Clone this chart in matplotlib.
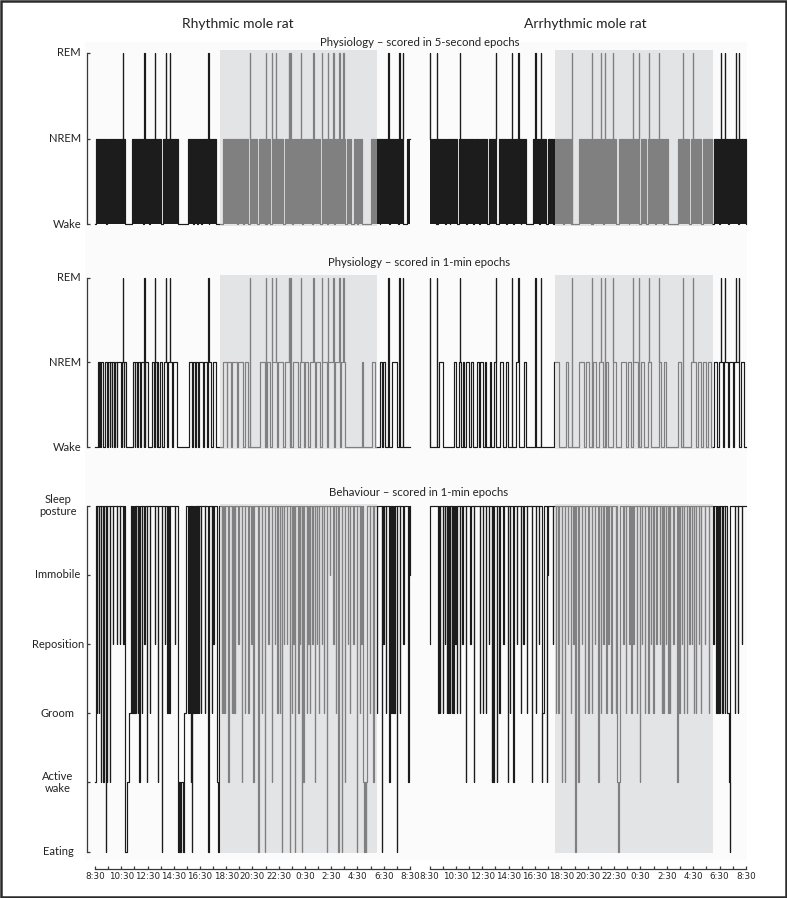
import numpy as np
import matplotlib
matplotlib.use('Agg')
import matplotlib.pyplot as plt
import matplotlib.transforms as mtrans
from matplotlib.patches import Rectangle

plt.rcParams['font.family'] = ['Lato', 'DejaVu Sans']

# time is hours after 8:30 (0 .. 24), lights off 18:00-6:00
dark_start, dark_end = 9.5, 21.5
hour_labels = ['8:30', '10:30', '12:30', '14:30', '16:30', '18:30', '20:30',
               '22:30', '0:30', '2:30', '4:30', '6:30', '8:30']

phys_levels = ['Wake', 'NREM', 'REM']
beh_levels = ['Eating', 'Active\nwake', 'Groom', 'Reposition', 'Immobile', 'Sleep\nposture']

# physiology, 5-second epochs: NREM bouts (start, end)
rhythm_nrem_5s = [(0.05, 0.84), (0.91, 2.31), (2.84, 3.68), (3.76, 4.11), (4.19, 5.05),
                  (5.20, 6.30), (7.06, 7.44), (7.52, 7.75), (7.82, 8.05), (8.13, 8.63),
                  (8.71, 9.22), (9.73, 10.84), (10.92, 11.30), (11.38, 11.68), (11.81, 12.32),
                  (12.52, 12.95), (13.08, 13.33), (13.46, 14.35), (14.48, 14.99), (15.11, 15.75),
                  (15.87, 16.51), (16.63, 17.14), (17.27, 17.65), (17.78, 18.16), (18.29, 19.05),
                  (19.18, 19.48), (19.73, 19.94), (20.06, 20.37), (21.00, 21.68), (21.74, 22.40),
                  (22.46, 23.10), (23.16, 23.49), (23.79, 24.0)]
arrhythm_nrem_5s = [(0.0, 0.50), (0.63, 1.14), (1.26, 1.52), (1.59, 2.07), (2.22, 2.80),
                    (2.86, 3.33), (3.41, 3.79), (3.86, 4.34), (4.49, 5.05), (5.30, 5.80),
                    (5.86, 6.31), (6.44, 6.90), (6.96, 7.32), (7.83, 8.30), (8.36, 8.84),
                    (8.96, 9.34), (9.42, 10.10), (10.23, 10.73), (11.36, 12.25), (12.37, 13.13),
                    (13.26, 14.14), (14.39, 15.10), (15.16, 15.91), (16.04, 16.41), (16.54, 17.10),
                    (17.16, 17.68), (17.80, 18.06), (18.81, 19.70), (19.82, 20.58), (20.71, 21.46),
                    (21.54, 21.97), (22.05, 22.60), (22.73, 23.40), (23.46, 23.99)]

# physiology, 1-min epochs: NREM bouts (start, end)
rhythm_nrem_1m = [(0.20, 0.28), (0.31, 0.38), (0.46, 0.63), (0.76, 0.94), (1.02, 1.14),
                  (1.18, 1.27), (1.32, 1.48), (1.52, 1.65), (1.70, 1.96), (2.03, 2.18),
                  (2.22, 2.36), (2.87, 3.02), (3.06, 3.17), (3.25, 3.43), (3.51, 3.73),
                  (3.83, 4.06), (4.32, 4.50), (4.57, 4.70), (4.74, 4.83), (4.95, 5.13),
                  (5.26, 5.46), (5.59, 5.84), (5.97, 6.22), (7.16, 7.37), (7.44, 7.62),
                  (7.70, 7.87), (7.95, 8.21), (8.31, 8.51), (8.63, 8.81), (9.01, 9.22),
                  (9.78, 10.05), (10.09, 10.36), (10.46, 10.79), (10.92, 11.30), (11.43, 11.68),
                  (12.57, 12.95), (13.08, 13.33), (13.46, 13.84), (13.97, 14.35), (14.48, 14.86),
                  (15.11, 15.49), (15.62, 15.92), (16.00, 16.25), (16.38, 16.76), (16.84, 17.14),
                  (17.27, 17.65), (17.78, 18.16), (18.29, 18.67), (18.72, 19.05), (20.32, 20.39),
                  (21.08, 21.33), (21.71, 21.88), (21.92, 22.10), (22.61, 22.99)]
arrhythm_nrem_1m = [(0.71, 1.01), (1.89, 2.02), (2.27, 2.40), (2.53, 2.65), (2.78, 3.03),
                    (3.11, 3.33), (3.61, 3.79), (3.86, 4.04), (4.17, 4.29), (4.55, 4.67),
                    (4.92, 5.05), (5.38, 5.56), (5.81, 5.93), (6.57, 6.82), (7.20, 7.32),
                    (9.42, 9.85), (10.35, 10.48), (11.36, 11.74), (11.87, 12.12), (12.37, 12.63),
                    (12.88, 13.13), (13.38, 13.51), (13.89, 14.14), (14.52, 14.90), (15.03, 15.28),
                    (15.40, 15.78), (16.04, 16.29), (16.54, 16.79), (17.42, 17.55), (17.80, 17.93),
                    (18.81, 19.07), (19.82, 20.20), (20.33, 20.58), (20.71, 20.96), (21.09, 21.34),
                    (21.59, 21.84), (21.97, 22.22), (22.35, 22.60), (22.73, 22.98), (23.11, 23.48),
                    (23.61, 23.86)]

# REM episode onsets (hours)
rhythm_rem = [2.15, 3.76, 4.57, 5.39, 5.71, 8.63, 11.81, 13.0, 13.46, 13.79, 14.76, 14.88,
              15.70, 16.63, 17.27, 17.73, 18.16, 18.61, 18.92, 22.35, 23.19, 23.44]
arrhythm_rem = [0.05, 0.58, 2.32, 5.05, 6.24, 6.74, 8.03, 8.46, 10.78, 12.32, 13.01, 13.31,
                13.89, 15.40, 15.86, 16.62, 17.42, 19.19, 19.95, 22.10, 22.42, 23.23, 23.48]

# behaviour: single-epoch dips from sleep posture (time, level index in beh_levels)
rhythm_beh_dips = [(0.13, 2), (0.30, 2), (0.46, 1), (0.64, 1), (0.81, 0), (0.91, 1), (1.14, 1),
                   (1.35, 3), (1.65, 3), (1.90, 3), (2.16, 3), (2.85, 2), (2.92, 2), (3.00, 2),
                   (3.10, 2), (3.25, 2), (3.38, 1), (3.55, 2), (3.76, 3), (3.94, 1), (4.20, 2),
                   (4.57, 3), (4.78, 1), (5.08, 0), (5.33, 3), (5.50, 2), (5.66, 2), (6.10, 3),
                   (7.11, 2), (7.20, 2), (7.31, 1), (7.40, 0), (7.46, 2), (7.50, 2), (7.54, 2),
                   (7.58, 2), (7.62, 2), (7.66, 2), (7.70, 2), (7.74, 2), (7.78, 2), (7.82, 2),
                   (7.92, 2), (8.05, 2), (8.38, 2), (8.64, 0), (8.90, 2), (9.02, 3),
                   (9.65, 2), (9.78, 2), (9.90, 2), (10.16, 1), (10.41, 2), (10.55, 2), (10.67, 2),
                   (10.92, 3), (11.18, 1), (11.43, 2), (11.68, 2), (11.90, 3), (12.06, 1),
                   (12.44, 0), (12.70, 2), (12.95, 0), (13.21, 3), (13.46, 1), (13.71, 3),
                   (13.90, 2), (14.10, 2), (14.22, 0), (14.40, 3), (14.60, 3), (14.86, 0),
                   (14.99, 2), (15.10, 3), (15.24, 0), (15.49, 2), (15.60, 3), (15.75, 0),
                   (15.87, 1), (16.13, 2), (16.25, 3), (16.38, 2), (16.55, 3), (16.76, 1),
                   (16.89, 3), (17.05, 2), (17.27, 3), (17.45, 2), (17.65, 0), (17.90, 4),
                   (18.16, 3), (18.35, 2), (18.54, 0), (18.79, 0), (19.05, 1), (19.25, 3),
                   (19.43, 2), (19.68, 3), (19.94, 0), (20.19, 2), (20.30, 3), (20.95, 2),
                   (21.21, 1), (21.46, 2), (21.84, 0), (21.97, 3), (22.15, 2), (22.43, 1),
                   (22.52, 2), (22.56, 2), (22.60, 2), (22.64, 2), (22.68, 2), (22.72, 2),
                   (22.76, 2), (22.80, 2), (22.86, 2), (22.98, 0), (23.25, 2), (23.49, 3),
                   (23.87, 1), (23.95, 4)]
arrhythm_beh_dips = [(0.00, 3), (0.67, 2), (0.80, 2), (1.00, 2), (1.17, 3), (1.30, 2), (1.43, 2),
                     (1.55, 2), (1.68, 2), (1.81, 2), (1.95, 3), (2.06, 2), (2.31, 2), (2.50, 3),
                     (2.77, 1), (3.10, 3), (3.37, 1), (3.80, 2), (4.05, 2), (4.28, 2), (4.50, 3),
                     (4.71, 1), (4.84, 1), (5.09, 1), (5.30, 2), (5.60, 3), (5.93, 1), (6.10, 2),
                     (6.36, 1), (6.60, 3), (6.94, 2), (7.12, 3), (7.40, 2), (7.75, 1), (8.08, 2),
                     (8.30, 3), (8.50, 1), (8.88, 1), (9.34, 3), (9.60, 2), (9.77, 2), (10.02, 1),
                     (10.27, 1), (10.50, 3), (10.70, 2), (10.90, 3), (11.29, 1), (11.54, 3),
                     (11.80, 2), (12.04, 2), (12.29, 2), (12.55, 3), (12.80, 1), (13.00, 2),
                     (13.18, 3), (13.40, 2), (13.56, 3), (13.80, 2), (14.14, 2), (14.70, 3),
                     (14.90, 2), (15.15, 3), (15.30, 2), (15.46, 3), (15.70, 2), (15.96, 1),
                     (16.10, 3), (16.34, 2), (16.60, 2), (16.80, 3), (16.97, 2), (17.20, 3),
                     (17.48, 3), (17.60, 2), (17.73, 2), (17.90, 3), (18.11, 2), (18.24, 2),
                     (18.50, 3), (18.79, 1), (18.95, 2), (19.12, 3), (19.30, 2), (19.50, 2),
                     (19.70, 3), (19.88, 3), (20.05, 2), (20.21, 2), (20.40, 3), (20.60, 2),
                     (20.89, 3), (21.20, 2), (21.52, 3), (21.75, 2), (21.90, 2), (22.03, 2),
                     (22.20, 2), (22.40, 2), (23.16, 2), (23.40, 2), (23.67, 3)]
# behaviour: longer bouts away from sleep posture (start, end, level)
rhythm_beh_bouts = [(0.0, 0.05, 1), (2.29, 2.45, 0), (2.45, 2.62, 1), (2.62, 2.72, 2),
                    (6.33, 6.40, 0), (6.40, 6.50, 1), (6.50, 6.56, 0), (6.56, 6.70, 1),
                    (6.70, 6.75, 0), (6.75, 6.92, 2), (9.30, 9.40, 1), (9.40, 9.47, 0),
                    (20.45, 20.52, 1), (20.52, 20.56, 0), (20.56, 20.64, 1), (20.64, 20.68, 0),
                    (20.68, 20.75, 1)]
arrhythm_beh_bouts = [(8.55, 8.70, 2), (8.94, 8.98, 4), (11.05, 11.14, 0), (14.25, 14.32, 1),
                      (14.32, 14.36, 0), (14.36, 14.45, 1), (22.55, 22.68, 2), (22.68, 22.78, 1),
                      (22.78, 22.81, 0)]

LIGHT_C = '#1c1c1c'
DARK_C = '#808080'
SHADE_C = '#e3e4e6'
AX_C = '#3a3a3a'


def step_trace(bouts, base, pick):
    edges = sorted(set([0.0, 24.0] + [b[0] for b in bouts] + [b[1] for b in bouts]))
    lv = []
    for a, b in zip(edges[:-1], edges[1:]):
        m = 0.5 * (a + b)
        lv.append(pick([l for s, e, l in bouts if s <= m < e] + [base]))
    return np.array(edges), np.array(lv + [lv[-1]])


def phase_split(ax, draw):
    # draw once per light/dark window, clipped to that window
    for x0, x1, c in [(-1, dark_start, LIGHT_C), (dark_start, dark_end, DARK_C), (dark_end, 25, LIGHT_C)]:
        for art in draw(c):
            art.set_clip_path(Rectangle((x0, -1), x1 - x0, 10, transform=ax.transData))


def phys_panel(ax, nrem, rem, filled):
    bouts = [(s, e, 1) for s, e in nrem] + [(t, t + 0.02, 2) for t in rem]
    x, y = step_trace(bouts, 0, max)

    def draw(c):
        arts = []
        if filled:
            arts.append(ax.fill_between(x, 0, np.minimum(y, 1), step='post', color=c, lw=0))
        arts += ax.step(x, y, where='post', color=c, lw=0.85)
        return arts
    phase_split(ax, draw)


def beh_panel(ax, dips, bouts):
    allb = [(t, t + 0.025, l) for t, l in dips] + list(bouts)
    x, y = step_trace(allb, 5, min)
    phase_split(ax, lambda c: ax.step(x, y, where='post', color=c, lw=0.85))


W, H = 787, 898
fig = plt.figure(figsize=(W / 100, H / 100), dpi=100)

# faint background and frame
fig.add_artist(Rectangle((85 / W, 1 - 860 / H), (747 - 85) / W, (860 - 42) / H,
                         transform=fig.transFigure, fc='#fbfbfb', ec='none', zorder=-10))
fig.add_artist(Rectangle((1.2 / W, 1.2 / H), 1 - 2.4 / W, 1 - 2.4 / H, transform=fig.transFigure,
                         fill=False, ec='#2b2b2b', lw=1.8, zorder=10))

cols = [(93.7, 411.3), (428.2, 747.3)]
rows = [(50, 226, (-0.023, 2.035)), (275, 449, (-0.02, 2.03)), (504, 853, (-0.02, 5.025))]

axes = {}
for r, (yt, yb, ylim) in enumerate(rows):
    for c, (x0, x1) in enumerate(cols):
        ax = fig.add_axes([x0 / W, 1 - yb / H, (x1 - x0) / W, (yb - yt) / H])
        ax.set_facecolor('none')
        ax.set_xlim(-0.1, 24.1)
        ax.set_ylim(*ylim)
        ax.axvspan(dark_start, dark_end, color=SHADE_C, lw=0, zorder=0)
        for s in ax.spines.values():
            s.set_visible(False)
        ax.set_yticks([])
        ax.set_xticks([])
        axes[r, c] = ax

phys_panel(axes[0, 0], rhythm_nrem_5s, rhythm_rem, True)
phys_panel(axes[0, 1], arrhythm_nrem_5s, arrhythm_rem, True)
phys_panel(axes[1, 0], rhythm_nrem_1m, rhythm_rem, False)
phys_panel(axes[1, 1], arrhythm_nrem_1m, arrhythm_rem, False)
beh_panel(axes[2, 0], rhythm_beh_dips, rhythm_beh_bouts)
beh_panel(axes[2, 1], arrhythm_beh_dips, arrhythm_beh_bouts)

# left y axes shaped like a bracket, labels placed in figure pixels
for r, names in [(0, phys_levels), (1, phys_levels), (2, beh_levels)]:
    ax = axes[r, 0]
    sp = ax.spines['left']
    sp.set_visible(True)
    sp.set_position(('outward', 4.5))
    sp.set_bounds(0, len(names) - 1)
    sp.set_color(AX_C)
    sp.set_linewidth(0.9)
    ax.set_yticks(range(len(names)))
    ax.tick_params(axis='y', direction='in', length=2.5, width=0.9, color=AX_C, labelleft=False)
    tr = mtrans.blended_transform_factory(fig.transFigure, ax.transData)
    for i, name in enumerate(names):
        if r < 2:
            ax.text(81 / W, i, name, transform=tr, ha='right', va='center', fontsize=8, color='#222222')
        else:
            ax.text(58 / W, i, name, transform=tr, ha='center', va='center', fontsize=8,
                    color='#222222', linespacing=1.15)

# shared time axis under the behaviour panels
for c in range(2):
    ax = axes[2, c]
    sp = ax.spines['bottom']
    sp.set_visible(True)
    sp.set_position(('outward', 11.5))
    sp.set_bounds(0, 24)
    sp.set_color(AX_C)
    sp.set_linewidth(0.9)
    ax.set_xticks(range(0, 25, 2))
    ax.set_xticklabels(hour_labels, fontsize=6.3, family=['Liberation Sans Narrow', 'DejaVu Sans'],
                       color='#222222')
    ax.set_xticks(range(1, 24, 2), minor=True)
    ax.tick_params(axis='x', which='both', direction='in', length=2.5, width=0.9, color=AX_C, pad=2.5)

fig.text(238 / W, 1 - 24 / H, 'Rhythmic mole rat', ha='center', va='center', fontsize=10, color='#222222')
fig.text(585 / W, 1 - 24 / H, 'Arrhythmic mole rat', ha='center', va='center', fontsize=10, color='#222222')
fig.text(420 / W, 1 - 42 / H, 'Physiology \u2013 scored in 5-second epochs', ha='center', va='center',
         fontsize=8.2, color='#222222')
fig.text(419 / W, 1 - 263 / H, 'Physiology \u2013 scored in 1-min epochs', ha='center', va='center',
         fontsize=8.2, color='#222222')
fig.text(419 / W, 1 - 492 / H, 'Behaviour \u2013 scored in 1-min epochs', ha='center', va='center',
         fontsize=8.2, color='#222222')

fig.savefig('out.png', dpi=100)
